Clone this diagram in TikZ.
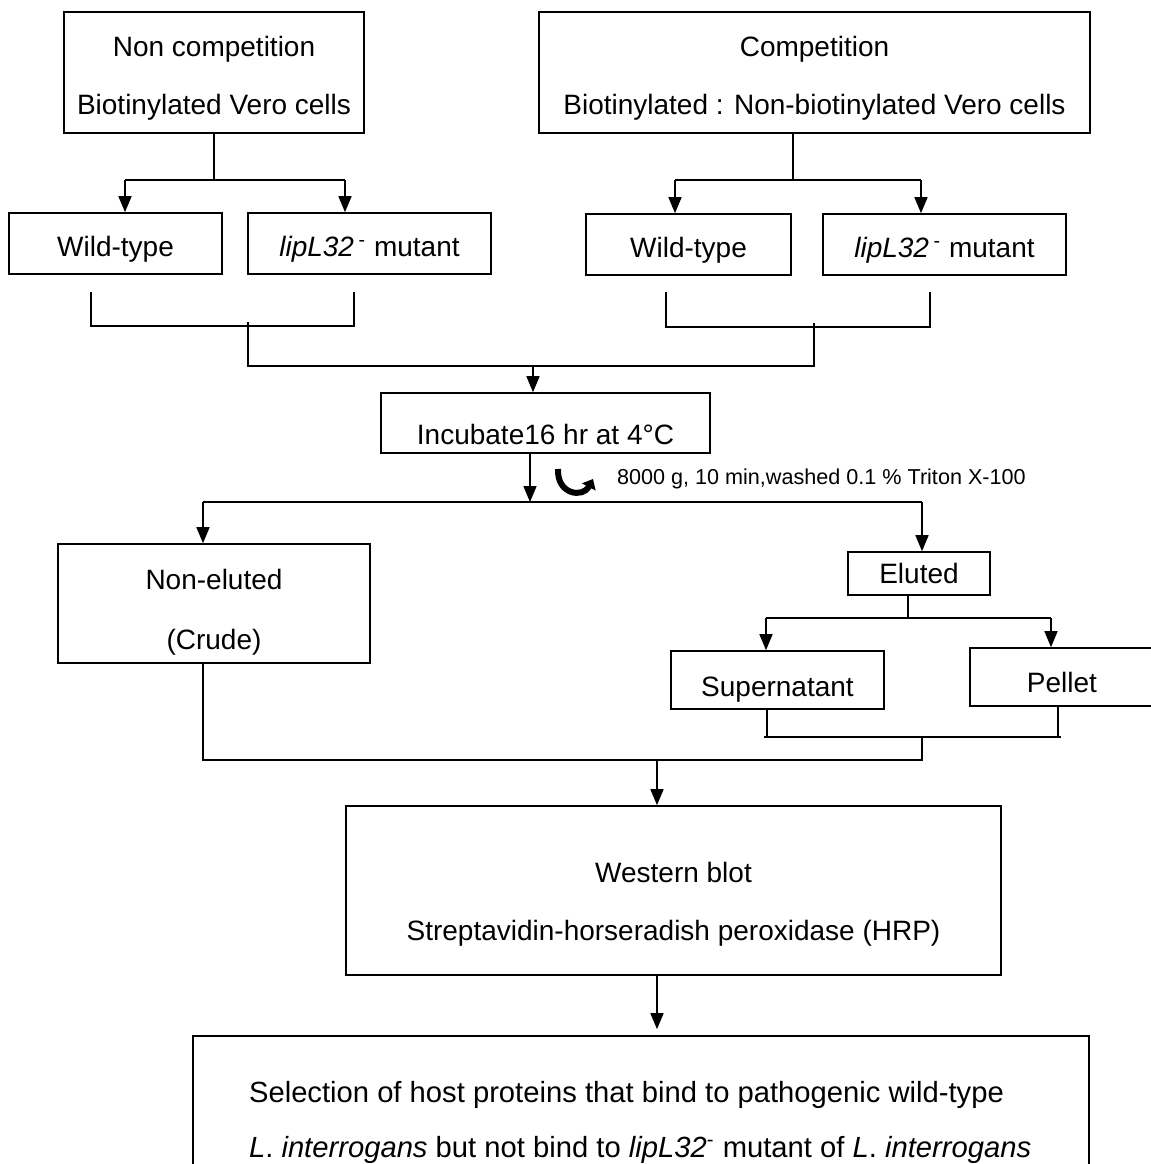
\documentclass[tikz,border=0pt]{standalone}
\usepackage{fontspec}
\setmainfont{Liberation Sans}
\usetikzlibrary{arrows.meta}

\begin{document}
\begin{tikzpicture}[x=0.5pt,y=-0.5pt]
\newcommand{\pxsize}{0.5pt}
\newcommand{\textdrop}[1]{\rule{0pt}{#1}}
\tikzstyle{box}=[draw,line width=0.8pt,inner sep=0pt,align=center,font=\fontsize{14}{29}\selectfont]
\tikzstyle{line}=[line width=0.8pt]
\tikzstyle{heavy}=[line width=1.1pt]
\tikzstyle{flow}=[line,-{Triangle[width=6.5pt,length=8pt]}]
\useasboundingbox (0,0) rectangle (1151,1164);
\clip (0,0) rectangle (1151,1164);
% top boxes
\node[box,minimum width=300*\pxsize,minimum height=121*\pxsize] (nc) at (214,72.5) {\textdrop{16pt}Non competition\\Biotinylated Vero cells};
\node[box,minimum width=551*\pxsize,minimum height=121*\pxsize] (co) at (814.5,72.5) {\textdrop{16pt}Competition\\Biotinylated : Non-biotinylated Vero cells};
\node[box,minimum width=213*\pxsize,minimum height=61*\pxsize] (wt1) at (115.5,243.5) {\textdrop{16pt}Wild-type};
\node[box,minimum width=243*\pxsize,minimum height=61*\pxsize] (mu1) at (369.5,243.5) {\textdrop{16pt}\textit{lipL32}\,\textsuperscript{-} mutant};
\node[box,minimum width=205*\pxsize,minimum height=61*\pxsize] (wt2) at (688.5,244.5) {\textdrop{16pt}Wild-type};
\node[box,minimum width=243*\pxsize,minimum height=61*\pxsize] (mu2) at (944.5,244.5) {\textdrop{16pt}\textit{lipL32}\,\textsuperscript{-} mutant};
% middle
\node[box,minimum width=329*\pxsize,minimum height=60*\pxsize] (inc) at (545.5,423) {\textdrop{22pt}Incubate16 hr at 4°C};
\node[anchor=west,font=\fontsize{10.8}{13}\selectfont] (spin) at (610,479) {8000 g, 10 min,washed 0.1 \% Triton X-100};
\node[box,minimum width=312*\pxsize,minimum height=119*\pxsize] (ne) at (214,603.5) {\textdrop{19pt}Non-eluted\\[1pt](Crude)};
\node[box,minimum width=142*\pxsize,minimum height=43*\pxsize] (el) at (919,573.5) {Eluted};
\node[box,minimum width=213*\pxsize,minimum height=58*\pxsize] (sup) at (777.5,680) {\textdrop{19pt}Supernatant};
\node[box,minimum width=184*\pxsize,minimum height=58*\pxsize] (pel) at (1062,677) {\textdrop{16pt}Pellet};
% bottom
\node[box,minimum width=655*\pxsize,minimum height=169*\pxsize] (wb) at (673.5,890.5) {\textdrop{24pt}Western blot\\Streptavidin-horseradish peroxidase (HRP)};
\node[box,minimum width=896*\pxsize,minimum height=150*\pxsize] (sel) at (641,1111) {};
\node[anchor=west,align=left,font=\fontsize{14.6}{27.5}\selectfont] (seltxt) at (242,1122) {Selection of host proteins that bind to pathogenic wild-type\\\textit{L}. \textit{interrogans} but not bind to \textit{lipL32}\textsuperscript{-} mutant of \textit{L}. \textit{interrogans}};
% junctions
\coordinate (j1) at (214,180);
\coordinate (j2) at (793,180);
\coordinate (a1) at (125,180);
\coordinate (a2) at (345,180);
\coordinate (a3) at (675,180);
\coordinate (a4) at (921,180);
\coordinate (k1) at (91,292);
\coordinate (k2) at (354,292);
\coordinate (k3) at (666,292);
\coordinate (k4) at (930,292);
\coordinate (m1) at (248,326);
\coordinate (m2) at (814,327);
\coordinate (m3) at (533,366);
\coordinate (d0) at (530,502);
\coordinate (d1) at (203,502);
\coordinate (d2) at (922,502);
\coordinate (e0) at (908,618);
\coordinate (e1) at (766,618);
\coordinate (e2) at (1051,618);
\coordinate (f0) at (922,737);
\coordinate (f1) at (767,737);
\coordinate (f2) at (1058,737);
\coordinate (g0) at (203,760);
\coordinate (g1) at (657,760);
% connectors
\draw[line] (nc) -- (j1);
\draw[line] (co.south -| j2) -- (j2);
\draw[line] (a1) -- (a2);
\draw[line] (a3) -- (a4);
\draw[flow] (a1) -- (a1 |- wt1.north);
\draw[flow] (a2) -- (a2 |- mu1.north);
\draw[flow] (a3) -- (a3 |- wt2.north);
\draw[flow] (a4) -- (a4 |- mu2.north);
\draw[line] (k1) |- (m1) -| (k2);
\draw[line] (k3) |- (m2) -| (k4);
\draw[line] ([yshift=2pt]m1) -- (m1 |- m3) -- (m2 |- m3) -- ([yshift=2pt]m2);
\draw[flow] (m3) -- (m3 |- inc.north);
\draw[flow] (inc.south -| d0) -- (d0);
\draw[line] (d1) -- (d2);
\draw[flow] (d1) -- (d1 |- ne.north);
\draw[flow] (d2) -- (d2 |- el.north);
\draw[line width=3pt,-{Triangle[width=7.5pt,length=4.5pt]}] (558,469) .. controls (557,495) and (583,498) .. (593,479);
\draw[line] (el.south -| e0) -- (e0);
\draw[line] (e1) -- (e2);
\draw[flow] (e1) -- (e1 |- sup.north);
\draw[flow] (e2) -- (e2 |- pel.north);
\draw[line] (sup.south -| f1) -- (f1);
\draw[line] (pel.south -| f2) -- (f2);
\draw[line] ([xshift=-1.5pt]f1) -- ([xshift=1.5pt]f2);
\draw[heavy] (ne.south -| g0) -- (g0) -- (f0 |- g0) -- (f0);
\draw[flow] (g1) -- (g1 |- wb.north);
\draw[flow,shorten >=3pt] (wb.south -| g1) -- (g1 |- sel.north);
\end{tikzpicture}
\end{document}
